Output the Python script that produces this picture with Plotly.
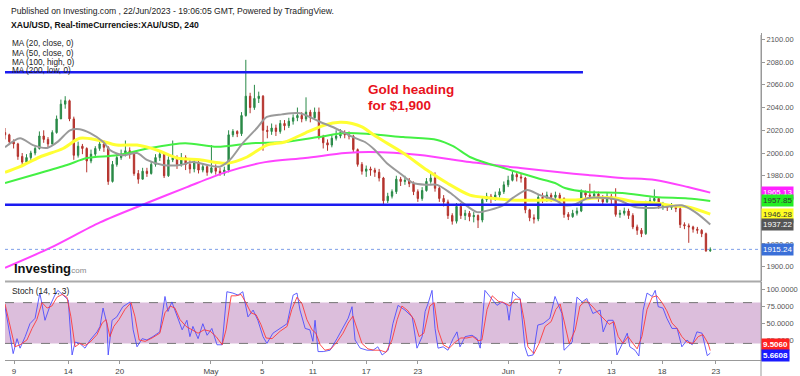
import plotly.graph_objects as go

# ---------------- data ----------------
first_open = 2018
close = [2016,2010,2008,1997,1992,1996,2000,2004,2015,2012,2008,2018,2030,2043,2046,2030,1998,2006,2004,1993,
         1999,2004,2008,2005,1975,1990,1996,1999,2002,1999,1982,1977,1984,1982,1990,1996,1999,1980,1994,1996,
         1990,1996,1990,1986,1992,1985,1988,1983,1987,1984,1982,1985,2016,2019,2017,2033,2050,2040,2048,2050,
         2020,2019,2022,2019,2026,2024,2028,2031,2033,2030,2036,2031,2036,2014,2009,2007,2013,2015,2018,2016,
         2015,2003,1990,1984,1986,1985,1983,1978,1958,1962,1966,1977,1975,1976,1973,1966,1960,1967,1975,1978,
         1969,1960,1957,1945,1940,1953,1945,1947,1944,1945,1941,1959,1962,1960,1963,1966,1972,1976,1981,1979,
         1978,1950,1943,1942,1961,1960,1963,1961,1963,1960,1946,1944,1947,1949,1966,1963,1962,1964,1960,1957,
         1962,1959,1946,1947,1949,1945,1935,1932,1929,1956,1958,1960,1953,1954,1952,1953,1951,1937,1936,1935,
         1933,1932,1929,1914,1915.24]
high = [2022,2017,2012,2009,2000,1999,2002,2006,2019,2020,2014,2020,2033,2047,2050,2047,2032,2010,2008,2005,
        2003,2006,2010,2011,2006,1993,1999,2003,2011,2005,2001,1985,1987,1987,1993,1999,2001,2000,1997,2011,
        1998,2000,1998,1994,1995,1993,1991,1990,2007,1990,1987,1988,2020,2021,2020,2036,2082,2053,2060,2054,
        2051,2024,2026,2025,2029,2029,2031,2034,2040,2036,2049,2038,2040,2040,2016,2012,2016,2020,2021,2020,
        2019,2016,2004,1992,1989,1988,1987,1986,1979,1965,1968,1980,1979,1980,1978,1975,1968,1970,1978,1984,
        1983,1971,1963,1959,1947,1956,1956,1950,1949,1948,1946,1962,1965,1964,1966,1969,1975,1980,1984,1983,
        1982,1979,1951,1946,1964,1965,1966,1965,1966,1965,1961,1948,1950,1952,1968,1967,1973,1967,1966,1963,
        1965,1964,1969,1950,1952,1951,1947,1937,1934,1958,1961,1968,1961,1957,1955,1956,1954,1953,1939,1938,
        1936,1935,1933,1930,1917]
low = [2012,2007,2004,1994,1989,1990,1994,1998,2003,2009,2005,2007,2017,2030,2039,2028,1994,1996,1999,1983,
       1991,1997,2002,2001,1972,1974,1988,1994,1997,1995,1980,1973,1978,1979,1981,1988,1993,1978,1979,1992,
       1986,1988,1985,1982,1983,1982,1983,1980,1982,1981,1980,1980,1983,2014,2014,2015,2032,2035,2038,2044,
       2002,2013,2016,2015,2017,2020,2022,2025,2028,2027,2028,2027,2029,2012,2004,2002,2005,2011,2013,2013,
       2012,2000,1988,1981,1979,1980,1979,1975,1955,1956,1960,1964,1971,1972,1970,1963,1957,1958,1966,1973,
       1966,1957,1953,1942,1937,1938,1942,1941,1940,1939,1934,1939,1957,1956,1958,1961,1964,1970,1975,1975,
       1974,1947,1940,1938,1940,1956,1957,1957,1958,1956,1943,1941,1943,1945,1948,1959,1959,1960,1957,1955,
       1956,1955,1944,1943,1945,1942,1933,1928,1926,1928,1954,1955,1951,1950,1949,1950,1948,1934,1933,1921,
       1930,1929,1926,1913,1913]
bar_index = list(range(len(close)))
open_ = [first_open] + close[:-1]

ma20_x = [0,3.5,6.5,9.8,12.3,15.1,17.4,19.8,22.8,24.4,27.4,30.7,33,36.7,40.7,43.7,47,50,52.3,55.3,58.6,60.9,
          64.4,68.6,73.3,76.7,80.9,83.7,86,88.8,91.9,94.9,98.1,100.5,103.5,106.5,109.8,112.8,115.8,118.1,121.4,
          124.4,127.9,130.2,132.6,135.6,139.5,142.6,146.5,150.5,153.5,157.4,160.5,164]
ma20_y = [2005,2013,2007,2004.5,2010,2020,2021,2017.6,2010,2002.7,1998,2000,1994,1989.5,1989.5,1992,1989.5,1988,
          1994,2008.7,2022,2031.7,2034,2035,2027.3,2022,2014,2009.7,2002.7,1991,1982,1973.6,1972,1972,1965,1956,
          1948,1950,1954,1960.5,1967.5,1963,1958.7,1954,1955,1960.5,1960.5,1958.7,1952.5,1951.6,1952.5,1954,1948,1937.22]
ma50_x = [0,3.5,8.1,13.5,17.4,21.4,26,30.7,35.3,40,45.3,51.6,56.3,60.9,65.1,69.8,74.4,77.9,80.7,83,86.5,92.6,
          98.1,102.8,108.1,112.8,117.4,123.7,129,132.6,137.2,141.9,146.5,151.2,155.8,158.8,164]
ma50_y = [1983,1988,1996.5,2004,2013,2011.5,2007,2007,2002.7,1995.6,1994,1991,1996.5,2007,2009.7,2017.6,2024.7,
          2027,2026,2023,2014,2000,1985,1973.6,1963,1960.5,1958.7,1958.5,1958.7,1958.7,1960.5,1960.5,1957,1956,
          1953.4,1952.5,1946.28]
ma100_x = [0,6.5,14.4,19.1,26,33.7,41.9,49.3,57.4,65.1,72.8,79.1,84.9,92.6,100.5,104.2,108.1,112.1,115.8,119.8,
           123.7,127.9,130.2,135.6,143.5,151.2,158.8,164]
ma100_y = [1973.6,1980.7,1989.5,1995.6,1998,2004.5,2008.7,2005.5,2008.7,2009.7,2014,2017.6,2016.7,2014,2011.5,
           2006,1996.5,1991,1987,1982.4,1978,1973.6,1969.2,1965.7,1964.8,1961.3,1960,1957.85]
ma200_x = [0,10.5,22.1,33,42.3,51.2,60.5,69.8,79.1,84.9,96.5,108.1,119.8,129,135.6,143.5,151.2,158.8,164]
ma200_y = [1899,1916.5,1939,1956,1970,1983,1992,1995.6,2000,2001,1998.3,1992,1986.8,1983,1980.7,1978,1976.3,
           1970.1,1965.13]

resistance = 2071
resistance_span = [0, 134.4]
support = 1954.5
support_span = [0, 152.6]
last_price = 1915.24

stoch_k_x = [0,1.2,1.9,2.8,3.5,4.7,5.8,7.0,8.1,9.3,10.5,11.6,12.3,13.5,14.7,15.6,16.3,17.4,18.6,19.8,21.4,22.1,
             22.8,23.7,24.0,24.9,26.0,27.4,29.1,29.8,30.7,31.9,33.0,34.4,36.0,37.2,37.9,38.8,40.0,41.2,42.3,43.0,
             43.7,44.9,46.0,47.0,48.1,49.3,50.5,51.6,53.0,54.2,55.3,56.5,57.7,58.8,60.0,60.9,62.3,64.0,65.6,67.0,
             67.9,68.6,69.8,70.9,71.6,72.1,72.8,74.0,75.6,77.2,78.6,79.8,80.7,81.4,82.6,84.2,85.6,86.7,87.7,89.1,
             90.2,91.4,93.0,94.7,95.8,97.0,97.7,98.4,99.3,100.0,100.7,101.9,103.0,104.2,105.1,105.8,107.0,108.6,
             109.8,110.5,111.6,112.8,114.4,115.6,116.7,117.2,118.1,119.1,119.8,120.9,121.6,122.8,123.9,125.1,
             126.7,127.9,128.6,129.5,130.0,130.7,131.9,133.0,134.2,135.3,136.7,138.4,139.1,140.2,141.4,142.3,
             143.5,144.7,145.3,146.5,147.4,148.4,149.3,150.5,151.2,151.9,153.0,153.9,155.1,156.3,157.4,158.6,
             159.8,160.9,162.1,163.3,164]
stoch_k_y = [74,30,5,27,13,30,49,57,94,54,76,91,98,91,84,3,22,20,13,25,37,45,72,49,3,54,59,74,81,40,15,27,25,30,
             37,89,67,81,59,40,54,30,45,27,49,32,42,18,18,96,94,91,96,59,69,54,30,20,35,42,49,91,94,69,42,40,23,54,
             8,8,10,27,42,57,74,25,13,10,10,15,3,10,49,76,69,59,13,30,67,79,98,42,13,15,10,27,37,15,30,32,27,13,98,
             89,76,81,76,54,96,89,86,15,1.5,3,47,49,57,89,79,64,10,15,22,88,81,86,64,69,37,54,54,3,20,35,15,10,1.5,
             69,94,89,98,74,72,57,42,42,15,25,18,37,35,2,5.6608]
stoch_d_x = [0,1.2,2.3,3.5,5.1,6.3,7.4,8.6,9.8,10.9,12.1,13.3,14.4,15.3,16.3,17.4,18.6,19.8,21.4,22.6,23.5,24.4,
             25.3,26.5,27.9,29.3,30.2,31.2,32.6,34.2,36.0,37.2,38.4,39.5,40.7,42.1,43.5,44.9,46.3,47.7,49.1,50.5,
             51.4,52.6,53.7,54.9,56.0,57.2,58.4,59.5,60.7,62.1,64.0,65.6,66.7,67.9,69.1,70.2,71.4,72.3,73.3,74.4,
             75.8,77.2,78.6,79.8,80.9,81.9,83.0,84.4,85.8,87.2,88.6,90.0,91.2,92.3,93.7,95.1,96.3,97.4,98.8,99.8,
             100.7,101.9,103.3,104.7,106.0,107.4,108.8,110.0,110.9,112.1,113.3,114.7,116.0,117.4,118.6,119.8,
             120.7,121.6,123.0,124.2,125.6,127.0,128.1,129.1,130.2,131.2,132.6,133.7,135.1,136.5,137.9,139.3,
             140.5,141.6,142.6,143.7,144.9,145.8,147.0,148.1,149.3,150.5,151.6,152.8,153.9,155.1,156.3,157.4,
             158.6,160.0,161.2,162.3,163.5,164]
stoch_d_y = [78,45,15,18,25,42,55,80,72,75,88,92,88,60,15,20,17,22,33,50,55,30,45,55,70,80,60,25,23,28,35,65,75,
             72,55,45,40,35,40,38,30,18,40,90,90,92,80,65,62,48,28,27,38,45,70,88,78,55,40,35,18,10,12,22,35,50,60,
             40,20,12,10,10,7,25,55,75,68,55,30,35,75,80,40,18,13,22,28,28,30,24,25,70,90,82,80,75,85,85,55,15,5,
             20,45,52,70,78,45,20,40,75,83,75,65,55,48,52,30,20,30,22,12,30,70,88,90,80,68,50,42,30,22,20,30,33,
             20,9.506]

x_tick_pos = [2.1,14.7,26.7,47.9,59.8,71.6,84,96,117,129,141,152.8,165.3]
x_tick_text = ["9","14","20","May","5","11","17","23","Jun","7","13","18","23"]
price_ticks = list(range(1900, 2101, 20))
stoch_ticks = [0, 25, 50, 75, 100]
stoch_band = [20, 80]

# ---------------- layout helpers ----------------
W, H = 800, 376
ML, MR, MT, MB = 5, 39, 33, 16
PW, PH = W - ML - MR, H - MT - MB


def px(xp, yp):
    return (xp - ML) / PW, (H - MB - yp) / PH


FONT = "Liberation Sans, Arial, sans-serif"
main_bottom = px(0, 281)[1]
stoch_top = px(0, 282)[1]

fig = go.Figure()

fig.add_trace(go.Candlestick(
    x=bar_index, open=open_, high=high, low=low, close=close,
    increasing=dict(line=dict(color="#2a8a48", width=1), fillcolor="#2a8a48"),
    decreasing=dict(line=dict(color="#b5332d", width=1), fillcolor="#b5332d"),
    whiskerwidth=0, xaxis="x", yaxis="y", hoverinfo="skip"))

for xs, ys, col, w in [(ma200_x, ma200_y, "#ff44ff", 2), (ma100_x, ma100_y, "#44f044", 2),
                       (ma50_x, ma50_y, "#ffff33", 3), (ma20_x, ma20_y, "#9a9a9a", 2)]:
    fig.add_trace(go.Scatter(x=xs, y=ys, mode="lines", line=dict(color=col, width=w, shape="spline", smoothing=0.8),
                             xaxis="x", yaxis="y", hoverinfo="skip"))

fig.add_trace(go.Scatter(x=resistance_span, y=[resistance, resistance], mode="lines",
                         line=dict(color="#1b1bf0", width=2.5), xaxis="x", yaxis="y"))
fig.add_trace(go.Scatter(x=support_span, y=[support, support], mode="lines",
                         line=dict(color="#1b1bf0", width=2.5), xaxis="x", yaxis="y"))

fig.add_trace(go.Scatter(x=stoch_k_x, y=stoch_k_y, mode="lines", line=dict(color="rgba(70,70,255,0.85)", width=1),
                         xaxis="x", yaxis="y2", hoverinfo="skip"))
fig.add_trace(go.Scatter(x=stoch_d_x, y=stoch_d_y, mode="lines", line=dict(color="rgba(255,50,50,0.85)", width=1),
                         xaxis="x", yaxis="y2", hoverinfo="skip"))

shapes = [
    dict(type="rect", xref="paper", yref="y2", x0=0, x1=1, y0=stoch_band[0], y1=stoch_band[1],
         fillcolor="#dcbedc", line=dict(width=0), layer="below"),
    dict(type="line", xref="paper", yref="y2", x0=0, x1=1, y0=stoch_band[0], y1=stoch_band[0],
         line=dict(color="#777", width=1, dash="dash"), layer="below"),
    dict(type="line", xref="paper", yref="y2", x0=0, x1=1, y0=stoch_band[1], y1=stoch_band[1],
         line=dict(color="#777", width=1, dash="dash"), layer="below"),
    dict(type="line", xref="paper", yref="y", x0=0, x1=1, y0=last_price, y1=last_price,
         line=dict(color="#7f9fe8", width=1, dash="dot")),
    dict(type="line", xref="paper", yref="paper", x0=0, x1=1, y0=(main_bottom + stoch_top) / 2,
         y1=(main_bottom + stoch_top) / 2, line=dict(color="#aaaaaa", width=2)),
    dict(type="line", xref="paper", yref="paper", x0=1, x1=1, y0=px(0, 376)[1], y1=px(0, 35)[1],
         line=dict(color="#999999", width=1)),
]

annotations = []


def note(xp, yp, text, size=8.5, color="#222", anchor="left", bold=False, **kw):
    x, y = px(xp, yp)
    if bold:
        text = "<b>" + text + "</b>"
    annotations.append(dict(xref="paper", yref="paper", x=x, y=y, text=text, showarrow=False,
                            xanchor=anchor, yanchor="middle", font=dict(family=FONT, size=size, color=color), **kw))


note(9, 11, "Published on Investing.com , 22/Jun/2023 - 19:06:05 GMT, Powered by TradingView.", 8.6, "#222")
note(9, 25, "XAU/USD, Real-timeCurrencies:XAU/USD, 240", 8.6, "#111", bold=True)
for yy, t in [(44, "MA (20, close, 0)"), (53, "MA (50, close, 0)"), (62, "MA (100, high, 0)"), (70, "MA (200, low, 0)")]:
    note(10, yy, t, 8.2, "#222")
note(10, 291, "Stoch (14, 1, 3)", 8.4, "#222")
note(366, 90, "Gold heading", 13.5, "#e8121c", bold=True)
note(366, 105, "for $1,900", 13.5, "#e8121c", bold=True)
note(12, 268, "Investing", 13, "#111", bold=True)
note(67, 270, ".com", 8, "#888")

# right-side value labels
for val, bg, fg in [(1965.13, "#ff22ff", "#ffffff"), (1957.85, "#22ee22", "#333333"),
                    (1946.28, "#ffff22", "#333333"), (1937.22, "#555555", "#ffffff"),
                    (last_price, "#3a6fd8", "#ffffff")]:
    annotations.append(dict(xref="paper", yref="y", x=1, y=val, text=f"{val:.2f}", showarrow=False,
                            xanchor="left", yanchor="middle", bgcolor=bg, borderpad=1,
                            font=dict(family=FONT, size=8, color=fg)))
for val, yp, bg in [(stoch_d_y[-1], 344, "#ff2020"), (stoch_k_y[-1], 355, "#1a1aff")]:
    x, y = px(761, yp)
    annotations.append(dict(xref="paper", yref="paper", x=1, y=y, text=f"<b>{val:.4f}</b>", showarrow=False,
                            xanchor="left", yanchor="middle", bgcolor=bg, borderpad=1,
                            font=dict(family=FONT, size=8, color="#ffffff")))

fig.update_layout(
    width=W, height=H, margin=dict(l=ML, r=MR, t=MT, b=MB, autoexpand=False),
    paper_bgcolor="white", plot_bgcolor="white", showlegend=False, boxgap=0.55,
    xaxis=dict(domain=[0, 1], anchor="y2", range=[0, 175.8], tickvals=x_tick_pos, ticktext=x_tick_text,
               showgrid=False, zeroline=False, showline=True, linecolor="#999", linewidth=1, automargin=False,
               ticks="outside", ticklen=3, tickcolor="#999", tickfont=dict(family=FONT, size=8, color="#444"),
               rangeslider=dict(visible=False)),
    yaxis=dict(domain=[main_bottom, 1], anchor="x", side="right", range=[1887.4, 2105.6], tickvals=price_ticks,
               tickformat=".2f", showgrid=False, zeroline=False, showline=True, linecolor="#999", automargin=False,
               ticks="outside", ticklen=3, tickcolor="#999", tickfont=dict(family=FONT, size=7.5, color="#555")),
    yaxis2=dict(domain=[0, stoch_top], anchor="x", side="right", range=[-4.4, 110.3], tickvals=stoch_ticks,
                tickformat=".4f", showgrid=False, zeroline=False, showline=True, linecolor="#999", automargin=False,
                ticks="outside", ticklen=3, tickcolor="#999", tickfont=dict(family=FONT, size=7.5, color="#555")),
    shapes=shapes, annotations=annotations,
)

fig.write_html("out.html", config={"displayModeBar": False, "staticPlot": True},
               post_script="document.body.style.margin='0';document.body.style.overflow='hidden';")
